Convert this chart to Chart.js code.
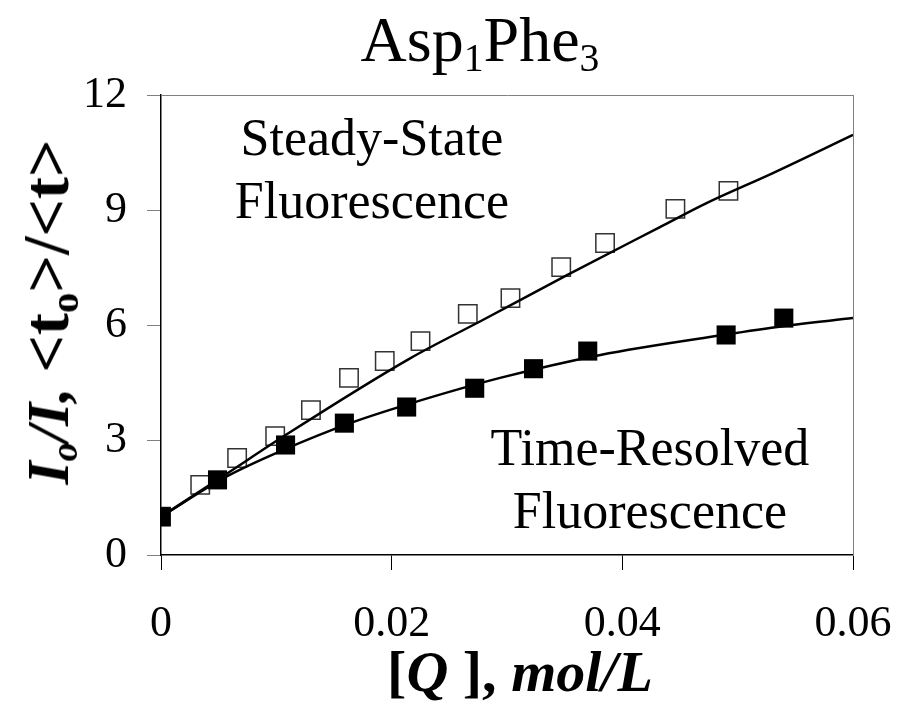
<!DOCTYPE html>
<html>
<head>
<meta charset="utf-8">
<script src="https://cdn.jsdelivr.net/npm/chart.js@4/dist/chart.umd.min.js"></script>
<style>
  body { margin: 0; background: #fff; }
  #wrap { position: relative; width: 897px; height: 702px; font-family: "Liberation Serif", "Times New Roman", serif; color: #000; }
  canvas { position: absolute; left: 0; top: 0; }
  .lbl { position: absolute; white-space: nowrap; line-height: 1; }
  sub { font-size: 0.62em; vertical-align: -0.25em; line-height: 0; }
  .br { font-size: 1.1em; }
</style>
</head>
<body>
<div id="wrap">
  <canvas id="chart" width="897" height="702"></canvas>
  <div class="lbl" id="title" style="left:480px; top:8px; transform:translateX(-50%); font-size:64px;">Asp<sub>1</sub>Phe<sub>3</sub></div>
  <div class="lbl" id="ylab" style="left:46px; top:312px; transform:translate(-50%,-50%) rotate(-90deg); font-size:60px; font-weight:bold;"><i>I<sub>o</sub>/I,</i> <span class="br">&lt;t<sub>o</sub>&gt;/&lt;t&gt;</span></div>
  <div class="lbl" id="xlab" style="left:520px; top:643px; transform:translateX(-50%); font-size:58px; font-weight:bold;">[<i>Q</i> ], <i>mol/L</i></div>
  <div class="lbl" style="left:372px; top:106px; transform:translateX(-50%); font-size:52px; text-align:center; line-height:1.22;">Steady-State<br>Fluorescence</div>
  <div class="lbl" style="left:650px; top:416px; transform:translateX(-50%); font-size:52px; text-align:center; line-height:1.22;">Time-Resolved<br>Fluorescence</div>
</div>
<script>
// quencher concentration, mol/L
const ssQ   = [0, 0.0034, 0.0066, 0.0099, 0.0130, 0.0163, 0.0194, 0.0225, 0.0266, 0.0303, 0.0347, 0.0385, 0.0446, 0.0492];
const ssVal = [1.0, 1.83, 2.53, 3.10, 3.78, 4.62, 5.06, 5.58, 6.29, 6.70, 7.51, 8.14, 9.03, 9.50];

const trQ   = [0, 0.0049, 0.0108, 0.0159, 0.0213, 0.0272, 0.0323, 0.0370, 0.0490, 0.0540];
const trVal = [1.0, 1.96, 2.87, 3.44, 3.86, 4.35, 4.86, 5.32, 5.74, 6.18];

// fitted curves
const ssFitQ   = [0, 0.0057, 0.0106, 0.0216, 0.0279, 0.0352, 0.0433, 0.0473, 0.0531, 0.06];
const ssFitVal = [1.0, 2.12, 3.09, 5.13, 6.13, 7.30, 8.56, 9.18, 9.97, 10.96];

const trFitQ   = [0, 0.0057, 0.0106, 0.0164, 0.0216, 0.0294, 0.0381, 0.0487, 0.0539, 0.06];
const trFitVal = [1.0, 2.05, 2.74, 3.44, 3.95, 4.62, 5.22, 5.74, 5.97, 6.18];

const xTicks = [0, 0.02, 0.04, 0.06];
const xTickLabels = ['0', '0.02', '0.04', '0.06'];
const yTicks = [0, 3, 6, 9, 12];
const yTickLabels = ['0', '3', '6', '9', '12'];

const pts = (xs, ys) => xs.map((x, i) => ({ x: x, y: ys[i] }));

const tickFont = { family: 'Liberation Serif', size: 44 };

new Chart(document.getElementById('chart'), {
    type: 'scatter',
    data: {
        datasets: [
            {
                label: 'Time-Resolved',
                data: pts(trQ, trVal),
                pointStyle: 'rect',
                pointRadius: 13.5,
                backgroundColor: '#000',
                borderColor: '#000',
                borderWidth: 0,
                showLine: false
            },
            {
                label: 'TR fit',
                data: pts(trFitQ, trFitVal),
                showLine: true,
                borderColor: '#000',
                borderWidth: 2.5,
                pointRadius: 0,
                cubicInterpolationMode: 'monotone'
            },
            {
                label: 'SS fit',
                data: pts(ssFitQ, ssFitVal),
                showLine: true,
                borderColor: '#000',
                borderWidth: 2.5,
                pointRadius: 0,
                cubicInterpolationMode: 'monotone'
            },
            {
                label: 'Steady-State',
                data: pts(ssQ, ssVal),
                pointStyle: 'rect',
                pointRadius: 13,
                backgroundColor: '#fff',
                borderColor: '#333',
                borderWidth: 1.5,
                showLine: false
            }
        ]
    },
    options: {
        responsive: false,
        animation: false,
        layout: { padding: { top: 95, right: 44, left: 0, bottom: 0 } },
        plugins: { legend: { display: false }, tooltip: { enabled: false } },
        scales: {
            x: {
                type: 'linear', position: 'bottom', min: 0, max: 0.06,
                afterBuildTicks: s => { s.ticks = xTicks.map(v => ({ value: v })); },
                ticks: {
                    font: tickFont, color: '#000', padding: 28, maxRotation: 0,
                    callback: (v, i) => xTickLabels[i]
                },
                grid: { drawOnChartArea: false, drawTicks: true, tickLength: 15, color: '#000', lineWidth: 1 },
                border: { color: '#000', width: 1.5 },
                afterFit: s => { s.height = 147; s.paddingLeft = 0; s.paddingRight = 0; }
            },
            y: {
                type: 'linear', position: 'left', min: 0, max: 12,
                afterBuildTicks: s => { s.ticks = yTicks.map(v => ({ value: v })); },
                ticks: {
                    font: tickFont, color: '#000', padding: 20,
                    callback: (v, i) => yTickLabels[i]
                },
                grid: { drawOnChartArea: false, drawTicks: true, tickLength: 14, color: '#808080', lineWidth: 1 },
                border: { color: '#000', width: 1.5 },
                afterFit: s => { s.width = 161; s.paddingTop = 0; s.paddingBottom = 0; }
            },
            x2: {
                type: 'linear', position: 'top', min: 0, max: 0.06,
                ticks: { display: false },
                grid: { drawOnChartArea: false, drawTicks: false },
                border: { color: '#808080', width: 1 },
                afterFit: s => { s.height = 0; s.paddingLeft = 0; s.paddingRight = 0; }
            },
            y2: {
                type: 'linear', position: 'right', min: 0, max: 12,
                ticks: { display: false },
                grid: { drawOnChartArea: false, drawTicks: false },
                border: { color: '#808080', width: 1 },
                afterFit: s => { s.width = 0; s.paddingTop = 0; s.paddingBottom = 0; }
            }
        }
    }
});
</script>
</body>
</html>
